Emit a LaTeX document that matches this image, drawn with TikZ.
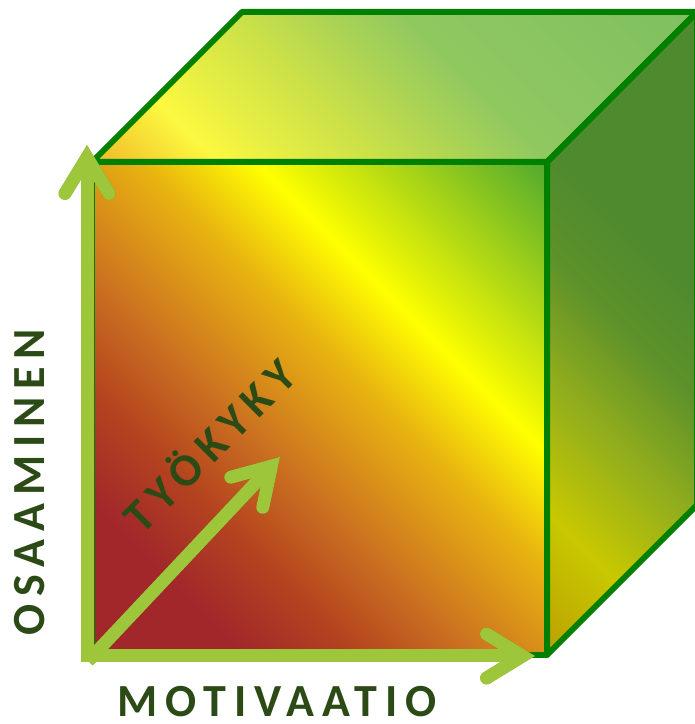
\documentclass[tikz,border=0pt]{standalone}
\usepackage{fontspec}
\setmainfont{Carlito}
\newfontfamily\labelfont[LetterSpace=17]{Carlito}
\usetikzlibrary{arrows.meta}

\definecolor{cube edge}{HTML}{008000}
\definecolor{axis green}{HTML}{9DC63A}
\definecolor{label green}{HTML}{2B4A16}
% front face
\definecolor{fr1}{HTML}{A1272B}
\definecolor{fr2}{HTML}{B4431F}
\definecolor{fr3}{HTML}{CC7420}
\definecolor{fr4}{HTML}{E8B410}
\definecolor{fr5}{HTML}{FFFF00}
\definecolor{fr6}{HTML}{C0E010}
\definecolor{fr7}{HTML}{4EA830}
% top face
\definecolor{tp1}{HTML}{F0B828}
\definecolor{tp2}{HTML}{FCF840}
\definecolor{tp3}{HTML}{C8E048}
\definecolor{tp4}{HTML}{90C860}
\definecolor{tp5}{HTML}{80C060}
% right face
\definecolor{sd1}{HTML}{BCA000}
\definecolor{sd2}{HTML}{C8C800}
\definecolor{sd3}{HTML}{92AE1C}
\definecolor{sd4}{HTML}{5E922A}
\definecolor{sd5}{HTML}{4E8A2E}

% gradients, all along the same 45 degree axis
\pgfdeclarehorizontalshading{front grad}{100bp}{color(0bp)=(fr1);
    color(41.5bp)=(fr1); color(44.5bp)=(fr2); color(47.75bp)=(fr3);
    color(51.75bp)=(fr4); color(54.75bp)=(fr5); color(57.5bp)=(fr6);
    color(62.5bp)=(fr7); color(100bp)=(fr7)}
\pgfdeclarehorizontalshading{top grad}{100bp}{color(0bp)=(tp1);
    color(50.5bp)=(tp1); color(53.75bp)=(tp2); color(58.25bp)=(tp3);
    color(62.5bp)=(tp4); color(70bp)=(tp5); color(100bp)=(tp5)}
\pgfdeclarehorizontalshading{side grad}{100bp}{color(0bp)=(sd1);
    color(49.5bp)=(sd1); color(53.25bp)=(sd2); color(56.75bp)=(sd3);
    color(60bp)=(sd4); color(63bp)=(sd5); color(100bp)=(sd5)}

\def\frontface{(92,69) -- (547,69) -- (547,562) -- (92,562) -- cycle}
\def\topface{(92,562) -- (242,712) -- (697,712) -- (547,562) -- cycle}
\def\sideface{(547,69) -- (697,219) -- (697,712) -- (547,562) -- cycle}
\def\gradbox{(-352,-484) rectangle (992,1116)}

\tikzset{edge/.style={draw=cube edge, line width=6pt, line join=round},
    axis/.style={draw=axis green, line width=13pt,
        -{Straight Barb[line cap=round, line join=miter, length=36pt, width=44pt]}},
    axis shadow/.style={axis, draw=black, opacity=0.22, shift={(2,-3)}},
    axis label/.style={text=label green, anchor=base,
        font=\labelfont\fontsize{46}{50}\selectfont\bfseries}}

\begin{document}
\begin{tikzpicture}[x=1pt, y=1pt]
    \useasboundingbox (0,0) rectangle (695,724);

    % Faces of the cube
    \foreach \face/\grad in {\frontface/front grad, \topface/top grad, \sideface/side grad}{
        \begin{scope}
            \clip \face;
            \shade[shading=\grad, transform canvas={rotate around={45:(320,316)}}] \gradbox;
        \end{scope}
    }
    \draw[edge] \frontface;
    \draw[edge] \topface;
    \draw[edge] \sideface;

    % Axes
    \coordinate (origin) at (87,62);
    \coordinate (corner) at (81,68);
    \coordinate (diag start) at (88,63);
    \coordinate (up end) at (87,579);
    \coordinate (right end) at (535,68);
    \coordinate (diag end) at (280,267);

    \draw[axis shadow] (origin) -- (up end);
    \draw[axis shadow] (corner) -- (right end);
    \draw[axis shadow] (diag start) -- (diag end);
    \draw[axis] (origin) -- (up end);
    \draw[axis] (corner) -- (right end);
    \draw[axis] (diag start) -- (diag end);

    % Labels
    \node[axis label, rotate=90] (osaaminen) at (45,242) {OSAAMINEN};
    \node[axis label] (motivaatio) at (277,7) {MOTIVAATIO};
    \node[axis label, rotate=45] (tyokyky) at (221,267) {TYÖKYKY};
\end{tikzpicture}
\end{document}
